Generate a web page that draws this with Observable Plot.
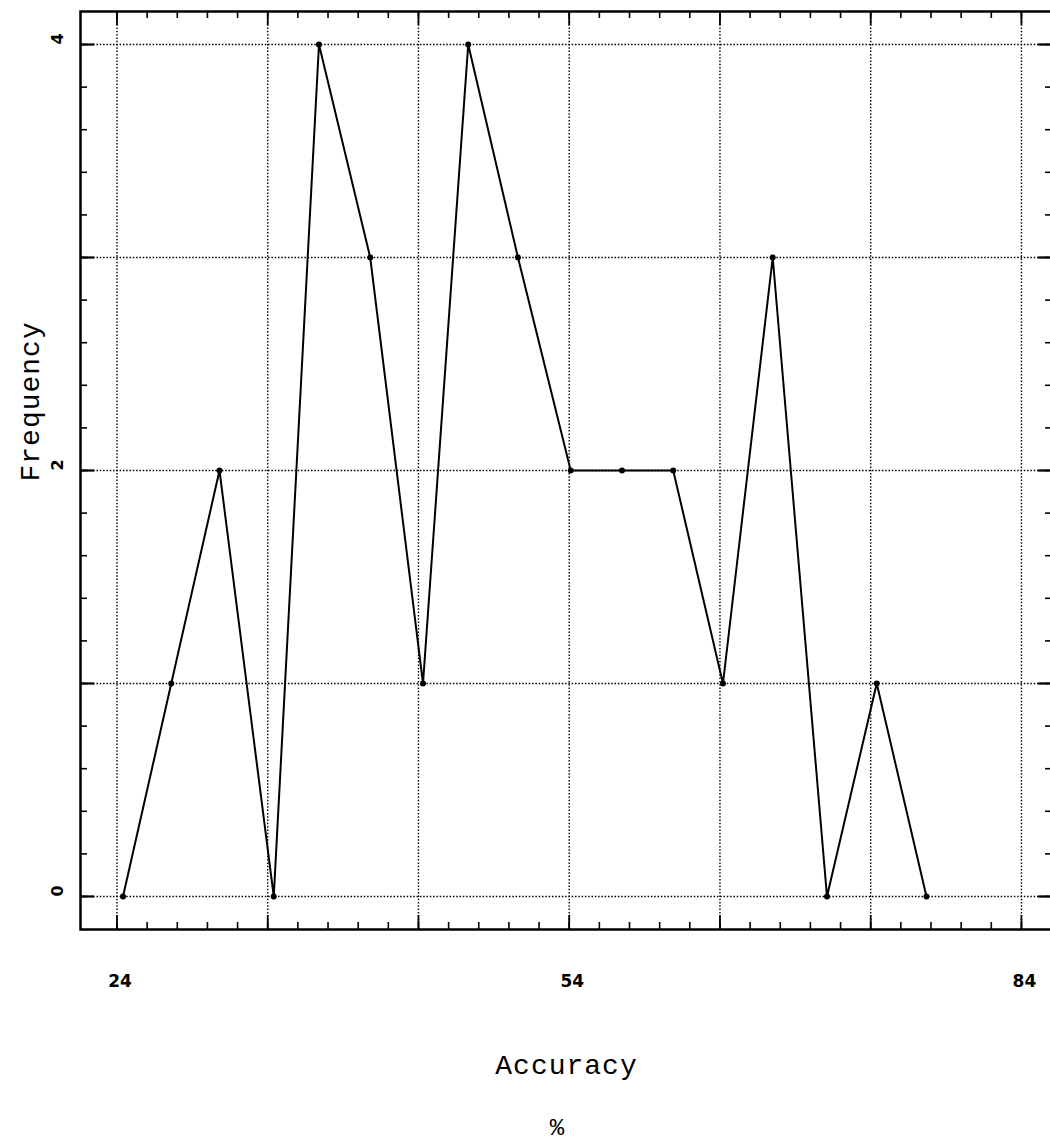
<!DOCTYPE html>
<html>
<head>
<meta charset="utf-8">
<script src="https://cdn.jsdelivr.net/npm/d3@7"></script>
<script src="https://cdn.jsdelivr.net/npm/@observablehq/plot@0.6"></script>
<style>
  html, body { margin: 0; padding: 0; background: white; overflow: hidden; }
  #chart svg { max-width: none !important; display: block; }
  g[font-family*="Mono"] text { letter-spacing: 1px; }
</style>
</head>
<body>
<div id="chart"></div>
<script>
// Data
const accuracy  = [24.4, 27.6, 30.8, 34.4, 37.4, 40.8, 44.3, 47.3, 50.6, 54.1, 57.5, 60.9, 64.2, 67.5, 71.1, 74.4, 77.7];
const frequency = [0, 1, 2, 0, 4, 3, 1, 4, 3, 2, 2, 2, 1, 3, 0, 1, 0];
const xTickLabels = [24, 54, 84];
const yTickLabels = [0, 2, 4];
const xGridLines = [24, 34, 44, 54, 64, 74, 84];
const yGridLines = [0, 1, 2, 3, 4];
const xMinorTicks = d3.range(24, 85, 2);
const yMinorTicks = d3.range(0, 4.01, 0.2);
const xLabel = "Accuracy";
const xUnit = "%";
const yLabel = "Frequency";

const data = accuracy.map((a, i) => ({accuracy: a, frequency: frequency[i]}));

const frameW = 972, frameH = 918;
const minor = 7, major = 14;
const ink = "black";
const grid = {stroke: ink, strokeDasharray: "1.5,1.8", strokeWidth: 1.4};

const chart = Plot.plot({
  width: 1060,
  height: 1146,
  marginLeft: 80,
  marginRight: 8,
  marginTop: 11,
  marginBottom: 217,
  style: {background: "white", color: "black", maxWidth: "none"},
  x: {domain: [21.58, 86.06], axis: null},
  y: {domain: [-0.155, 4.155], axis: null},
  marks: [
    Plot.ruleX(xGridLines, {x: d => d, ...grid}),
    Plot.ruleY(yGridLines, {y: d => d, ...grid}),
    // bottom ticks (inward)
    Plot.tickX(xMinorTicks, {x: d => d, insetTop: frameH - minor, stroke: ink, strokeWidth: 1.6}),
    Plot.tickX(xGridLines, {x: d => d, insetTop: frameH - major, stroke: ink, strokeWidth: 1.8}),
    // top ticks (inward)
    Plot.tickX(xMinorTicks, {x: d => d, insetBottom: frameH - minor, stroke: ink, strokeWidth: 1.6}),
    Plot.tickX(xGridLines, {x: d => d, insetBottom: frameH - major, stroke: ink, strokeWidth: 1.8}),
    // left ticks
    Plot.tickY(yMinorTicks, {y: d => d, insetRight: frameW - minor, stroke: ink, strokeWidth: 1.6}),
    Plot.tickY(yGridLines, {y: d => d, insetRight: frameW - major, stroke: ink, strokeWidth: 2.2}),
    // right ticks
    Plot.tickY(yMinorTicks, {y: d => d, insetLeft: frameW - minor, stroke: ink, strokeWidth: 1.6}),
    Plot.tickY(yGridLines, {y: d => d, insetLeft: frameW - major, stroke: ink, strokeWidth: 2.2}),
    Plot.frame({stroke: ink, strokeWidth: 2.5}),
    // series
    Plot.line(data, {x: "accuracy", y: "frequency", stroke: ink, strokeWidth: 2}),
    Plot.dot(data, {x: "accuracy", y: "frequency", r: 3, fill: ink, stroke: null}),
    // tick labels
    Plot.text(xTickLabels, {x: d => d, text: d => String(d), frameAnchor: "bottom", dy: 57.5, dx: 3,
      fontFamily: "DejaVu Sans", fontWeight: "bold", fontSize: 17, fill: ink}),
    Plot.text(yTickLabels, {y: d => d, text: d => String(d), frameAnchor: "left", dx: -23, rotate: -90,
      fontFamily: "DejaVu Sans", fontWeight: "bold", fontSize: 16, fill: ink}),
    // axis labels
    Plot.text([yLabel], {text: d => d, frameAnchor: "left", dx: -50, dy: 11, rotate: -90,
      fontFamily: "Liberation Mono", fontSize: 28, fill: ink}),
    Plot.text([xLabel], {text: d => d, frameAnchor: "bottom", dy: 144,
      fontFamily: "Liberation Mono", fontSize: 28, fill: ink}),
    Plot.text([xUnit], {text: d => d, frameAnchor: "bottom", dy: 205, dx: -9,
      fontFamily: "Liberation Mono", fontSize: 24, fill: ink})
  ]
});

document.getElementById("chart").appendChild(chart);
</script>
</body>
</html>
